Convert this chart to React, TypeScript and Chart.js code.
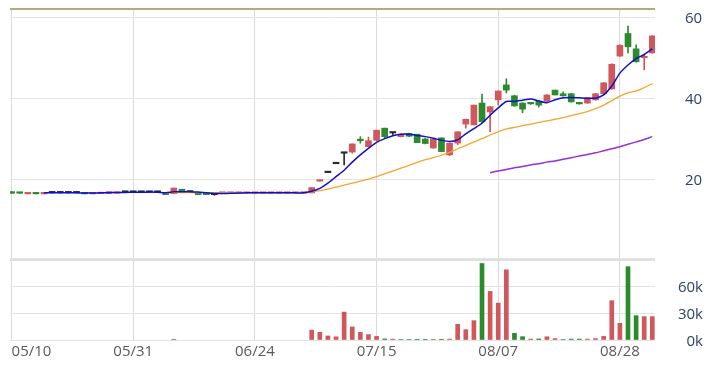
import React, { useEffect, useRef } from 'react';
import { Chart, registerables } from 'chart.js';

Chart.register(...registerables);

// ---------- data ----------
const dates = [
  '05/10',
  '05/13', '05/14', '05/15', '05/16', '05/17',
  '05/20', '05/21', '05/22', '05/23', '05/24',
  '05/27', '05/28', '05/29', '05/30', '05/31',
  '06/03', '06/04', '06/05', '06/06', '06/07',
  '06/11', '06/12', '06/13', '06/14',
  '06/17', '06/18', '06/19', '06/20', '06/21',
  '06/24', '06/25', '06/26', '06/27', '06/28',
  '07/01', '07/02', '07/03', '07/04', '07/05',
  '07/08', '07/09', '07/10', '07/11', '07/12',
  '07/15', '07/16', '07/17', '07/18', '07/19',
  '07/22', '07/23', '07/26',
  '07/29', '07/30', '07/31', '08/01', '08/02',
  '08/05', '08/06', '08/07',
  '08/08', '08/09',
  '08/12', '08/13', '08/14', '08/15', '08/16',
  '08/19', '08/20', '08/21', '08/22', '08/23',
  '08/26', '08/27', '08/28', '08/29', '08/30',
  '09/02', '09/03',
];

const opens = [
  16.9, 16.8, 16.35, 16.6, 16.35, 16.6, 16.6, 16.6, 16.6, 16.65,
  16.35, 16.4, 16.45, 16.5, 16.75, 16.75, 16.75, 16.75, 16.75, 16.6,
  16.4, 17.5, 16.8, 16.6, 16.6, 16.15, 16.5, 16.5, 16.5, 16.5,
  16.5, 16.5, 16.5, 16.5, 16.5, 16.5, 16.5, 16.6, 19.5, 21.6,
  23.8, 26.4, 26.7, 29.8, 28.0, 29.6, 32.6, 31.4, 30.5, 31.3,
  31.1, 29.9, 27.7, 30.2, 26.0, 28.9, 33.6, 33.4, 38.8, 36.6,
  39.6, 43.3, 40.6, 38.8, 38.8, 39.3, 39.3, 42.0, 41.1, 41.1,
  38.8, 38.8, 39.6, 41.1, 42.3, 50.4, 56.0, 52.2, 50.0, 51.2,
];
const highs = [
  16.9, 16.8, 16.6, 16.6, 16.55, 16.6, 16.6, 16.6, 16.6, 16.65,
  16.55, 16.6, 16.9, 16.8, 16.75, 16.75, 16.75, 16.95, 16.75, 16.6,
  17.8, 17.5, 16.8, 16.6, 16.6, 16.3, 16.6, 16.6, 16.6, 16.6,
  16.6, 16.6, 16.6, 16.6, 16.6, 16.6, 16.7, 17.9, 19.7, 21.6,
  23.8, 26.4, 28.7, 30.5, 30.4, 32.1, 32.6, 31.4, 31.2, 31.4,
  31.1, 30.1, 29.9, 30.2, 28.9, 31.7, 34.8, 38.3, 41.0, 37.9,
  41.8, 44.8, 40.7, 38.9, 38.9, 39.4, 40.9, 42.0, 41.6, 41.2,
  38.9, 40.1, 41.2, 43.9, 48.5, 53.2, 57.8, 53.2, 50.7, 55.5,
];
const lows = [
  16.5, 16.5, 16.35, 16.35, 16.35, 16.6, 16.6, 16.6, 16.6, 16.35,
  16.35, 16.4, 16.45, 16.5, 16.75, 16.75, 16.75, 16.75, 16.75, 16.15,
  16.4, 16.9, 16.8, 16.15, 16.15, 16.0, 16.5, 16.5, 16.5, 16.5,
  16.5, 16.5, 16.5, 16.5, 16.5, 16.5, 16.5, 16.6, 19.5, 21.6,
  23.8, 23.5, 26.4, 28.9, 28.0, 29.4, 30.2, 31.0, 30.4, 30.5,
  29.0, 28.7, 27.6, 26.8, 25.8, 28.5, 32.6, 33.4, 34.0, 31.7,
  38.3, 41.3, 38.0, 36.4, 38.5, 37.8, 39.2, 40.8, 40.5, 39.0,
  38.5, 38.7, 39.5, 41.0, 42.2, 50.3, 51.2, 48.9, 47.0, 51.1,
];
const closes = [
  16.5, 16.5, 16.6, 16.35, 16.55, 16.6, 16.6, 16.6, 16.6, 16.35,
  16.55, 16.6, 16.9, 16.8, 16.75, 16.75, 16.75, 16.75, 16.75, 16.15,
  17.8, 16.9, 16.8, 16.15, 16.15, 16.15, 16.6, 16.6, 16.6, 16.6,
  16.6, 16.6, 16.6, 16.6, 16.6, 16.6, 16.7, 17.9, 19.7, 21.6,
  23.8, 26.4, 28.7, 29.5, 29.5, 32.1, 30.5, 31.4, 31.1, 30.6,
  29.0, 28.8, 29.9, 26.8, 28.9, 31.7, 34.8, 38.3, 34.2, 37.9,
  41.8, 42.0, 38.1, 37.3, 38.6, 38.3, 40.8, 40.8, 40.6, 39.1,
  38.6, 40.1, 41.1, 43.8, 48.4, 53.1, 52.7, 49.0, 50.2, 55.4,
];

// volume in thousands of shares
const volumes = [
  0, 0, 0, 0, 0, 0, 0, 0, 0, 0,
  0, 0, 0, 0, 0, 0, 0, 0, 0, 0,
  0.8, 0, 0, 0, 0, 0, 0, 0, 0, 0,
  0, 0, 0, 0, 0, 0, 0, 11, 8.5, 4.5,
  3.5, 31, 14.5, 8.5, 6, 4, 1.2, 1, 0.5, 0.5,
  0.8, 0.3, 0.3, 0.8, 1, 17.4, 11.5, 21.5, 85, 54,
  41, 78, 7.4, 3.7, 1, 1.2, 3.6, 1.5, 0.5, 1,
  1, 1, 1.5, 4, 43.7, 18.5, 81.5, 27, 26, 26,
];

const ma5 = [
  null, null, null, null, 16.6, 16.6, 16.6, 16.6, 16.6, 16.55,
  16.55, 16.6, 16.65, 16.7, 16.7, 16.75, 16.75, 16.8, 16.75, 16.65,
  16.85, 16.9, 16.85, 16.8, 16.6, 16.45, 16.45, 16.5, 16.55, 16.6,
  16.6, 16.6, 16.6, 16.6, 16.6, 16.6, 16.6, 17.0, 17.7, 19.0,
  20.6, 22.2, 24.2, 26.0, 27.6, 29.1, 30.0, 30.7, 31.1, 31.1,
  30.8, 30.5, 30.1, 29.6, 29.3, 29.7, 31.2, 32.5, 33.8, 35.8,
  37.6, 39.2, 39.2, 39.5, 39.8, 39.3, 38.9, 39.6, 40.1, 40.2,
  40.1, 40.0, 40.0, 40.8, 43.0, 46.2, 48.2, 49.8, 50.8, 52.2,
];
const ma20 = [
  null, null, null, null, null, null, null, null, null, null,
  null, null, null, null, null, null, null, null, null, 16.6,
  16.65, 16.65, 16.65, 16.65, 16.65, 16.65, 16.65, 16.65, 16.65, 16.65,
  16.65, 16.65, 16.65, 16.65, 16.65, 16.65, 16.7, 16.85, 17.15, 17.55,
  18.0, 18.5, 19.0, 19.5, 20.0, 20.6, 21.3, 22.0, 22.7, 23.4,
  24.1, 24.8, 25.3, 25.9, 26.6, 27.5, 28.3, 29.2, 30.0, 30.9,
  31.7, 32.4, 32.8, 33.2, 33.6, 34.0, 34.4, 34.8, 35.2, 35.7,
  36.2, 36.7, 37.4, 38.3, 39.4, 40.5, 41.3, 41.8, 42.6, 43.6,
];
const ma60 = [
  null, null, null, null, null, null, null, null, null, null,
  null, null, null, null, null, null, null, null, null, null,
  null, null, null, null, null, null, null, null, null, null,
  null, null, null, null, null, null, null, null, null, null,
  null, null, null, null, null, null, null, null, null, null,
  null, null, null, null, null, null, null, null, null, 21.6,
  22.0, 22.4, 22.8, 23.1, 23.5, 23.8, 24.2, 24.5, 24.9, 25.3,
  25.7, 26.1, 26.5, 27.0, 27.5, 28.0, 28.6, 29.2, 29.8, 30.5,
];

const priceTicks = [20, 40, 60];
const volumeTicks = [0, 30, 60];
const volumeTickLabels = ['0k', '30k', '60k'];
const dateTickIndices = [0, 15, 30, 45, 60, 75];

// ---------- styling ----------
const RED = '#d0585c';
const GREEN = '#2b8a2b';
const DARK = '#2a2a2a';
const GRID = '#e3e3e3';
const VGRID = '#dadada';
const FONT = "'Open Sans', sans-serif";

const X_MIN = -0.2;
const X_MAX = 79.33;
const PRICE_MIN = 0.5;
const PRICE_MAX = 62.05;
const VOL_MAX = 88.9;

const candleColors = dates.map((_, i) =>
  closes[i] > opens[i] ? RED : closes[i] < opens[i] ? GREEN : DARK
);
const volumeColors = dates.map((_, i) =>
  i === 0 || closes[i] >= closes[i - 1] ? RED : GREEN
);

const lineDs = (label: string, arr: (number | null)[], color: string, width: number) => ({
  type: 'line' as const,
  label,
  data: arr.map((v, i) => ({ x: i, y: v })),
  borderColor: color,
  backgroundColor: color,
  borderWidth: width,
  pointRadius: 0,
  tension: 0.25,
  fill: false,
  spanGaps: false,
  order: 0,
});

function xGridColor(ctx: any) {
  const v = ctx.tick ? ctx.tick.value : null;
  return dateTickIndices.includes(v) ? VGRID : 'rgba(0,0,0,0)';
}

export default function App() {
  const priceRef = useRef<HTMLCanvasElement>(null);
  const volRef = useRef<HTMLCanvasElement>(null);

  useEffect(() => {
    Chart.defaults.font.family = FONT;
    Chart.defaults.font.size = 15;

    const priceChart = new Chart(priceRef.current as HTMLCanvasElement, {
      type: 'bar',
      data: {
        datasets: [
          lineDs('MA5', ma5, '#0f0fcc', 1.5),
          lineDs('MA20', ma20, '#f5a62a', 1.3),
          lineDs('MA60', ma60, '#9a2ed6', 1.5),
          {
            type: 'bar',
            label: 'wick',
            data: dates.map((_, i) => ({ x: i, y: [lows[i], highs[i]] })),
            backgroundColor: candleColors,
            barThickness: 1,
            grouped: false,
            order: 2,
          } as any,
          {
            type: 'bar',
            label: 'body',
            data: dates.map((_, i) => ({
              x: i,
              y: [Math.min(opens[i], closes[i]), Math.max(opens[i], closes[i])],
            })),
            backgroundColor: candleColors,
            barThickness: 6,
            minBarLength: 1.5,
            grouped: false,
            order: 1,
          } as any,
        ],
      },
      options: {
        responsive: false,
        animation: false,
        devicePixelRatio: 1,
        layout: { padding: { left: 10, top: 9, right: 0, bottom: 4 } },
        plugins: { legend: { display: false }, tooltip: { enabled: false } },
        scales: {
          x: {
            type: 'linear',
            min: X_MIN,
            max: X_MAX,
            offset: false,
            afterBuildTicks: (s: any) => {
              s.ticks = dateTickIndices.map((v) => ({ value: v }));
            },
            afterFit: (s: any) => {
              s.height = 0;
              s.paddingLeft = 0;
              s.paddingRight = 0;
            },
            ticks: { display: false },
            grid: { color: xGridColor, drawTicks: false, offset: false, lineWidth: 1 },
            border: { display: false },
          },
          y: {
            type: 'linear',
            position: 'right',
            min: PRICE_MIN,
            max: PRICE_MAX,
            afterBuildTicks: (s: any) => {
              s.ticks = [PRICE_MIN, ...priceTicks, PRICE_MAX].map((v) => ({ value: v }));
            },
            afterFit: (s: any) => {
              s.width = 60;
              s.paddingTop = 0;
              s.paddingBottom = 0;
            },
            ticks: {
              callback: (v: any) => (priceTicks.includes(v) ? String(v) : ''),
              color: '#2c4466',
              padding: 30,
              crossAlign: 'near',
              labelOffset: 1.5,
              font: { family: FONT, size: 15 },
            },
            grid: {
              drawTicks: false,
              color: (ctx: any) => (ctx.tick && ctx.tick.value > 61 ? '#b9a87e' : GRID),
              lineWidth: (ctx: any) => (ctx.tick && ctx.tick.value > 61 ? 2 : 1),
            },
            border: { display: false },
          },
        },
      } as any,
    });

    const volChart = new Chart(volRef.current as HTMLCanvasElement, {
      type: 'bar',
      data: {
        datasets: [
          {
            label: 'volume',
            data: dates.map((_, i) => ({ x: i, y: volumes[i] > 0 ? volumes[i] : null })),
            backgroundColor: volumeColors,
            barThickness: 4,
            grouped: false,
          } as any,
        ],
      },
      options: {
        responsive: false,
        animation: false,
        devicePixelRatio: 1,
        layout: { padding: { left: 10, top: 2, right: 12, bottom: 4 } },
        plugins: { legend: { display: false }, tooltip: { enabled: false } },
        scales: {
          x: {
            type: 'linear',
            min: X_MIN,
            max: X_MAX,
            offset: false,
            afterBuildTicks: (s: any) => {
              s.ticks = [...dateTickIndices, X_MAX].map((v) => ({ value: v }));
            },
            afterFit: (s: any) => {
              s.paddingLeft = 0;
              s.paddingRight = 0;
            },
            ticks: {
              autoSkip: false,
              maxRotation: 0,
              minRotation: 0,
              align: 'inner',
              padding: 3,
              color: '#5a5a5a',
              font: { family: FONT, size: 15 },
              callback: (v: any) => (dateTickIndices.includes(v) ? dates[v] : ''),
            },
            grid: { color: xGridColor, drawTicks: false, offset: false, lineWidth: 1 },
            border: { display: false },
          },
          y: {
            type: 'linear',
            position: 'right',
            min: 0,
            max: VOL_MAX,
            afterBuildTicks: (s: any) => {
              s.ticks = [...volumeTicks, VOL_MAX].map((v) => ({ value: v }));
            },
            afterFit: (s: any) => {
              s.width = 48;
              s.paddingTop = 0;
              s.paddingBottom = 0;
            },
            ticks: {
              callback: (v: any) => {
                const k = volumeTicks.indexOf(v);
                return k >= 0 ? volumeTickLabels[k] : '';
              },
              color: '#2c4466',
              padding: 10,
              crossAlign: 'far',
              labelOffset: 1.5,
              font: { family: FONT, size: 15 },
            },
            grid: {
              drawTicks: false,
              color: (ctx: any) => (ctx.tick && ctx.tick.value > 80 ? '#e0e0e0' : GRID),
              lineWidth: (ctx: any) => (ctx.tick && ctx.tick.value > 80 ? 2 : 1),
            },
            border: { display: false },
          },
        },
      } as any,
    });

    return () => {
      priceChart.destroy();
      volChart.destroy();
    };
  }, []);

  return (
    <div style={{ position: 'absolute', left: 0, top: 0, width: 715, height: 368, background: '#ffffff' }}>
      <canvas
        ref={priceRef}
        width={715}
        height={262}
        style={{ position: 'absolute', left: 0, top: 0, width: 715, height: 262 }}
      />
      <canvas
        ref={volRef}
        width={715}
        height={110}
        style={{ position: 'absolute', left: 0, top: 258, width: 715, height: 110 }}
      />
    </div>
  );
}
